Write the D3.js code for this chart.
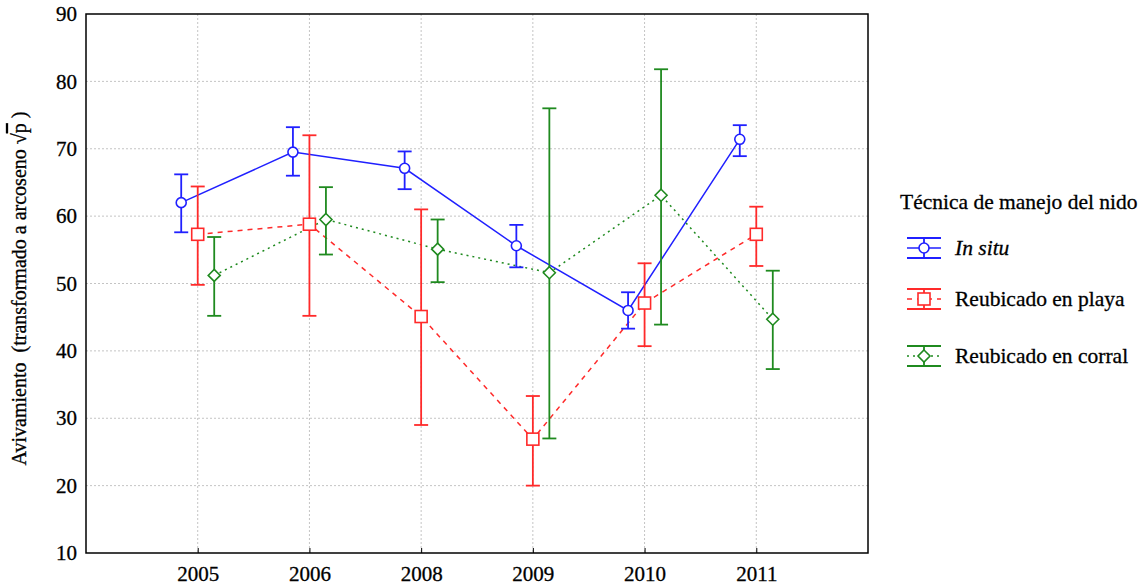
<!DOCTYPE html>
<html>
<head>
<meta charset="utf-8">
<script src="https://cdn.jsdelivr.net/npm/d3@7/dist/d3.min.js"></script>
<style>
  html, body { margin: 0; padding: 0; background: #fff; }
  svg { display: block; }
  svg text, svg tspan { font-family: "Liberation Serif", "Times New Roman", "DejaVu Serif", serif !important; fill: #000; stroke: #000; stroke-width: 0.3px; }
</style>
</head>
<body>
<svg id="chart" width="1146" height="586"></svg>
<script>
// Years on the x axis
const years = ["2005", "2006", "2008", "2009", "2010", "2011"];
const yTicks = [10, 20, 30, 40, 50, 60, 70, 80, 90];

// In situ
const inSituMean = [62.0, 69.5, 67.1, 55.6, 46.0, 71.4];
const inSituLow  = [57.6, 66.0, 64.0, 52.4, 43.3, 68.9];
const inSituHigh = [66.2, 73.2, 69.6, 58.7, 48.7, 73.5];

// Reubicado en playa
const playaMean = [57.3, 58.8, 45.1, 26.9, 47.1, 57.3];
const playaLow  = [49.8, 45.2, 29.0, 20.0, 40.7, 52.6];
const playaHigh = [64.4, 72.0, 61.0, 33.3, 53.0, 61.4];

// Reubicado en corral
const corralMean = [51.2, 59.5, 55.1, 51.6, 63.1, 44.7];
const corralLow  = [45.2, 54.3, 50.2, 27.0, 43.9, 37.3];
const corralHigh = [56.9, 64.3, 59.5, 76.0, 81.8, 51.9];

const seriesNames = ["In situ", "Reubicado en playa", "Reubicado en corral"];

const series = [
  { name: seriesNames[0], mean: inSituMean, low: inSituLow, high: inSituHigh,
    color: "#2020ff", dash: null, marker: "circle", shift: -16.5, italic: true },
  { name: seriesNames[1], mean: playaMean, low: playaLow, high: playaHigh,
    color: "#ff2a2a", dash: "5,5", marker: "square", shift: 0, italic: false },
  { name: seriesNames[2], mean: corralMean, low: corralLow, high: corralHigh,
    color: "#1f8a1f", dash: "2,4", marker: "diamond", shift: 16.5, italic: false }
];

const serif = "'Liberation Serif', 'Times New Roman', serif";
const svg = d3.select("#chart").attr("font-family", serif);
const plotLeft = 86, plotRight = 868, plotTop = 14, plotBottom = 553;

const x = d3.scalePoint().domain(years).range([plotLeft, plotRight]).padding(1);
const y = d3.scaleLinear().domain([10, 90]).range([plotBottom, plotTop]);

// Grid
const grid = svg.append("g");
grid.selectAll("line.h").data(yTicks.slice(1, -1)).join("line")
  .attr("x1", plotLeft).attr("x2", plotRight)
  .attr("y1", d => y(d)).attr("y2", d => y(d))
  .attr("stroke", "#c4c4c4").attr("stroke-width", 1).attr("stroke-dasharray", "2,2");
grid.selectAll("line.v").data(years).join("line")
  .attr("x1", d => x(d)).attr("x2", d => x(d))
  .attr("y1", plotTop).attr("y2", plotBottom)
  .attr("stroke", "#c4c4c4").attr("stroke-width", 1).attr("stroke-dasharray", "2,2");

// Axes
const xAxis = svg.append("g").attr("transform", `translate(0,${plotBottom})`)
  .call(d3.axisBottom(x).tickSize(-5).tickPadding(13));
const yAxis = svg.append("g").attr("transform", `translate(${plotLeft},0)`)
  .call(d3.axisLeft(y).tickValues(yTicks).tickSize(0).tickPadding(9));
[xAxis, yAxis].forEach(g => {
  g.attr("font-family", serif).attr("font-size", 21);
  g.select(".domain").remove();
  g.selectAll("text").style("font-family", serif).style("font-size", "21px");
  g.selectAll("line").attr("stroke", "#000");
});
xAxis.selectAll("text").attr("dy", "0.71em");

// Frame
svg.append("rect").attr("x", plotLeft).attr("y", plotTop)
  .attr("width", plotRight - plotLeft).attr("height", plotBottom - plotTop)
  .attr("fill", "none").attr("stroke", "#000").attr("stroke-width", 1.5);

// Y axis title with radical over p
const yTitle = svg.append("text")
  .attr("transform", `translate(26,${(plotTop + plotBottom) / 2 + 5}) rotate(-90)`)
  .attr("text-anchor", "middle")
  .style("font-family", serif).style("font-size", "20px");
yTitle.append("tspan").text("Avivamiento\u00A0 (transformado a arcoseno ");
yTitle.append("tspan").text("\u221A");
yTitle.append("tspan").style("text-decoration", "overline").text("p");
yTitle.append("tspan").text(" )");

// Marker drawing
function drawMarker(g, type, cx, cy, color) {
  if (type === "circle") {
    g.append("circle").attr("cx", cx).attr("cy", cy).attr("r", 5)
      .attr("fill", "#fff").attr("stroke", color).attr("stroke-width", 1.6);
  } else if (type === "square") {
    g.append("rect").attr("x", cx - 6).attr("y", cy - 6).attr("width", 12).attr("height", 12)
      .attr("fill", "#fff").attr("stroke", color).attr("stroke-width", 1.6);
  } else {
    g.append("path").attr("d", `M${cx},${cy - 6}L${cx + 6},${cy}L${cx},${cy + 6}L${cx - 6},${cy}Z`)
      .attr("fill", "#fff").attr("stroke", color).attr("stroke-width", 1.6);
  }
}

const plot = svg.append("g");
const capHalf = 7;

// Connecting lines
series.forEach(s => {
  const line = d3.line().x((d, i) => x(years[i]) + s.shift).y(d => y(d));
  plot.append("path").datum(s.mean).attr("d", line)
    .attr("fill", "none").attr("stroke", s.color).attr("stroke-width", 1.5)
    .attr("stroke-dasharray", s.dash);
});

// Error bars and markers
series.forEach(s => {
  const g = plot.append("g");
  years.forEach((yr, i) => {
    const cx = x(yr) + s.shift;
    g.append("line").attr("x1", cx).attr("x2", cx)
      .attr("y1", y(s.low[i])).attr("y2", y(s.high[i]))
      .attr("stroke", s.color).attr("stroke-width", 1.8);
    [s.low[i], s.high[i]].forEach(v => {
      g.append("line").attr("x1", cx - capHalf).attr("x2", cx + capHalf)
        .attr("y1", y(v)).attr("y2", y(v))
        .attr("stroke", s.color).attr("stroke-width", 1.8);
    });
  });
  years.forEach((yr, i) => drawMarker(g, s.marker, x(yr) + s.shift, y(s.mean[i]), s.color));
});

// Legend
const legend = svg.append("g");
legend.append("text").attr("x", 900).attr("y", 209)
  .style("font-family", serif).style("font-size", "21.5px")
  .text("Técnica de manejo del nido");
const legendY = [248, 299, 356];
series.forEach((s, k) => {
  const cy = legendY[k], cx = 924;
  const g = legend.append("g");
  g.append("line").attr("x1", 907).attr("x2", 941).attr("y1", cy).attr("y2", cy)
    .attr("stroke", s.color).attr("stroke-width", 1.5).attr("stroke-dasharray", s.dash);
  [cy - 10, cy + 10].forEach(v => g.append("line").attr("x1", 907).attr("x2", 941)
    .attr("y1", v).attr("y2", v).attr("stroke", s.color).attr("stroke-width", 1.8));
  g.append("line").attr("x1", cx).attr("x2", cx).attr("y1", cy - 10).attr("y2", cy + 10)
    .attr("stroke", s.color).attr("stroke-width", 1.8);
  drawMarker(g, s.marker, cx, cy, s.color);
  g.append("text").attr("x", 955).attr("y", cy + 7)
    .style("font-family", serif).style("font-size", "21.5px")
    .style("font-style", s.italic ? "italic" : "normal").text(s.name);
});
</script>
</body>
</html>
